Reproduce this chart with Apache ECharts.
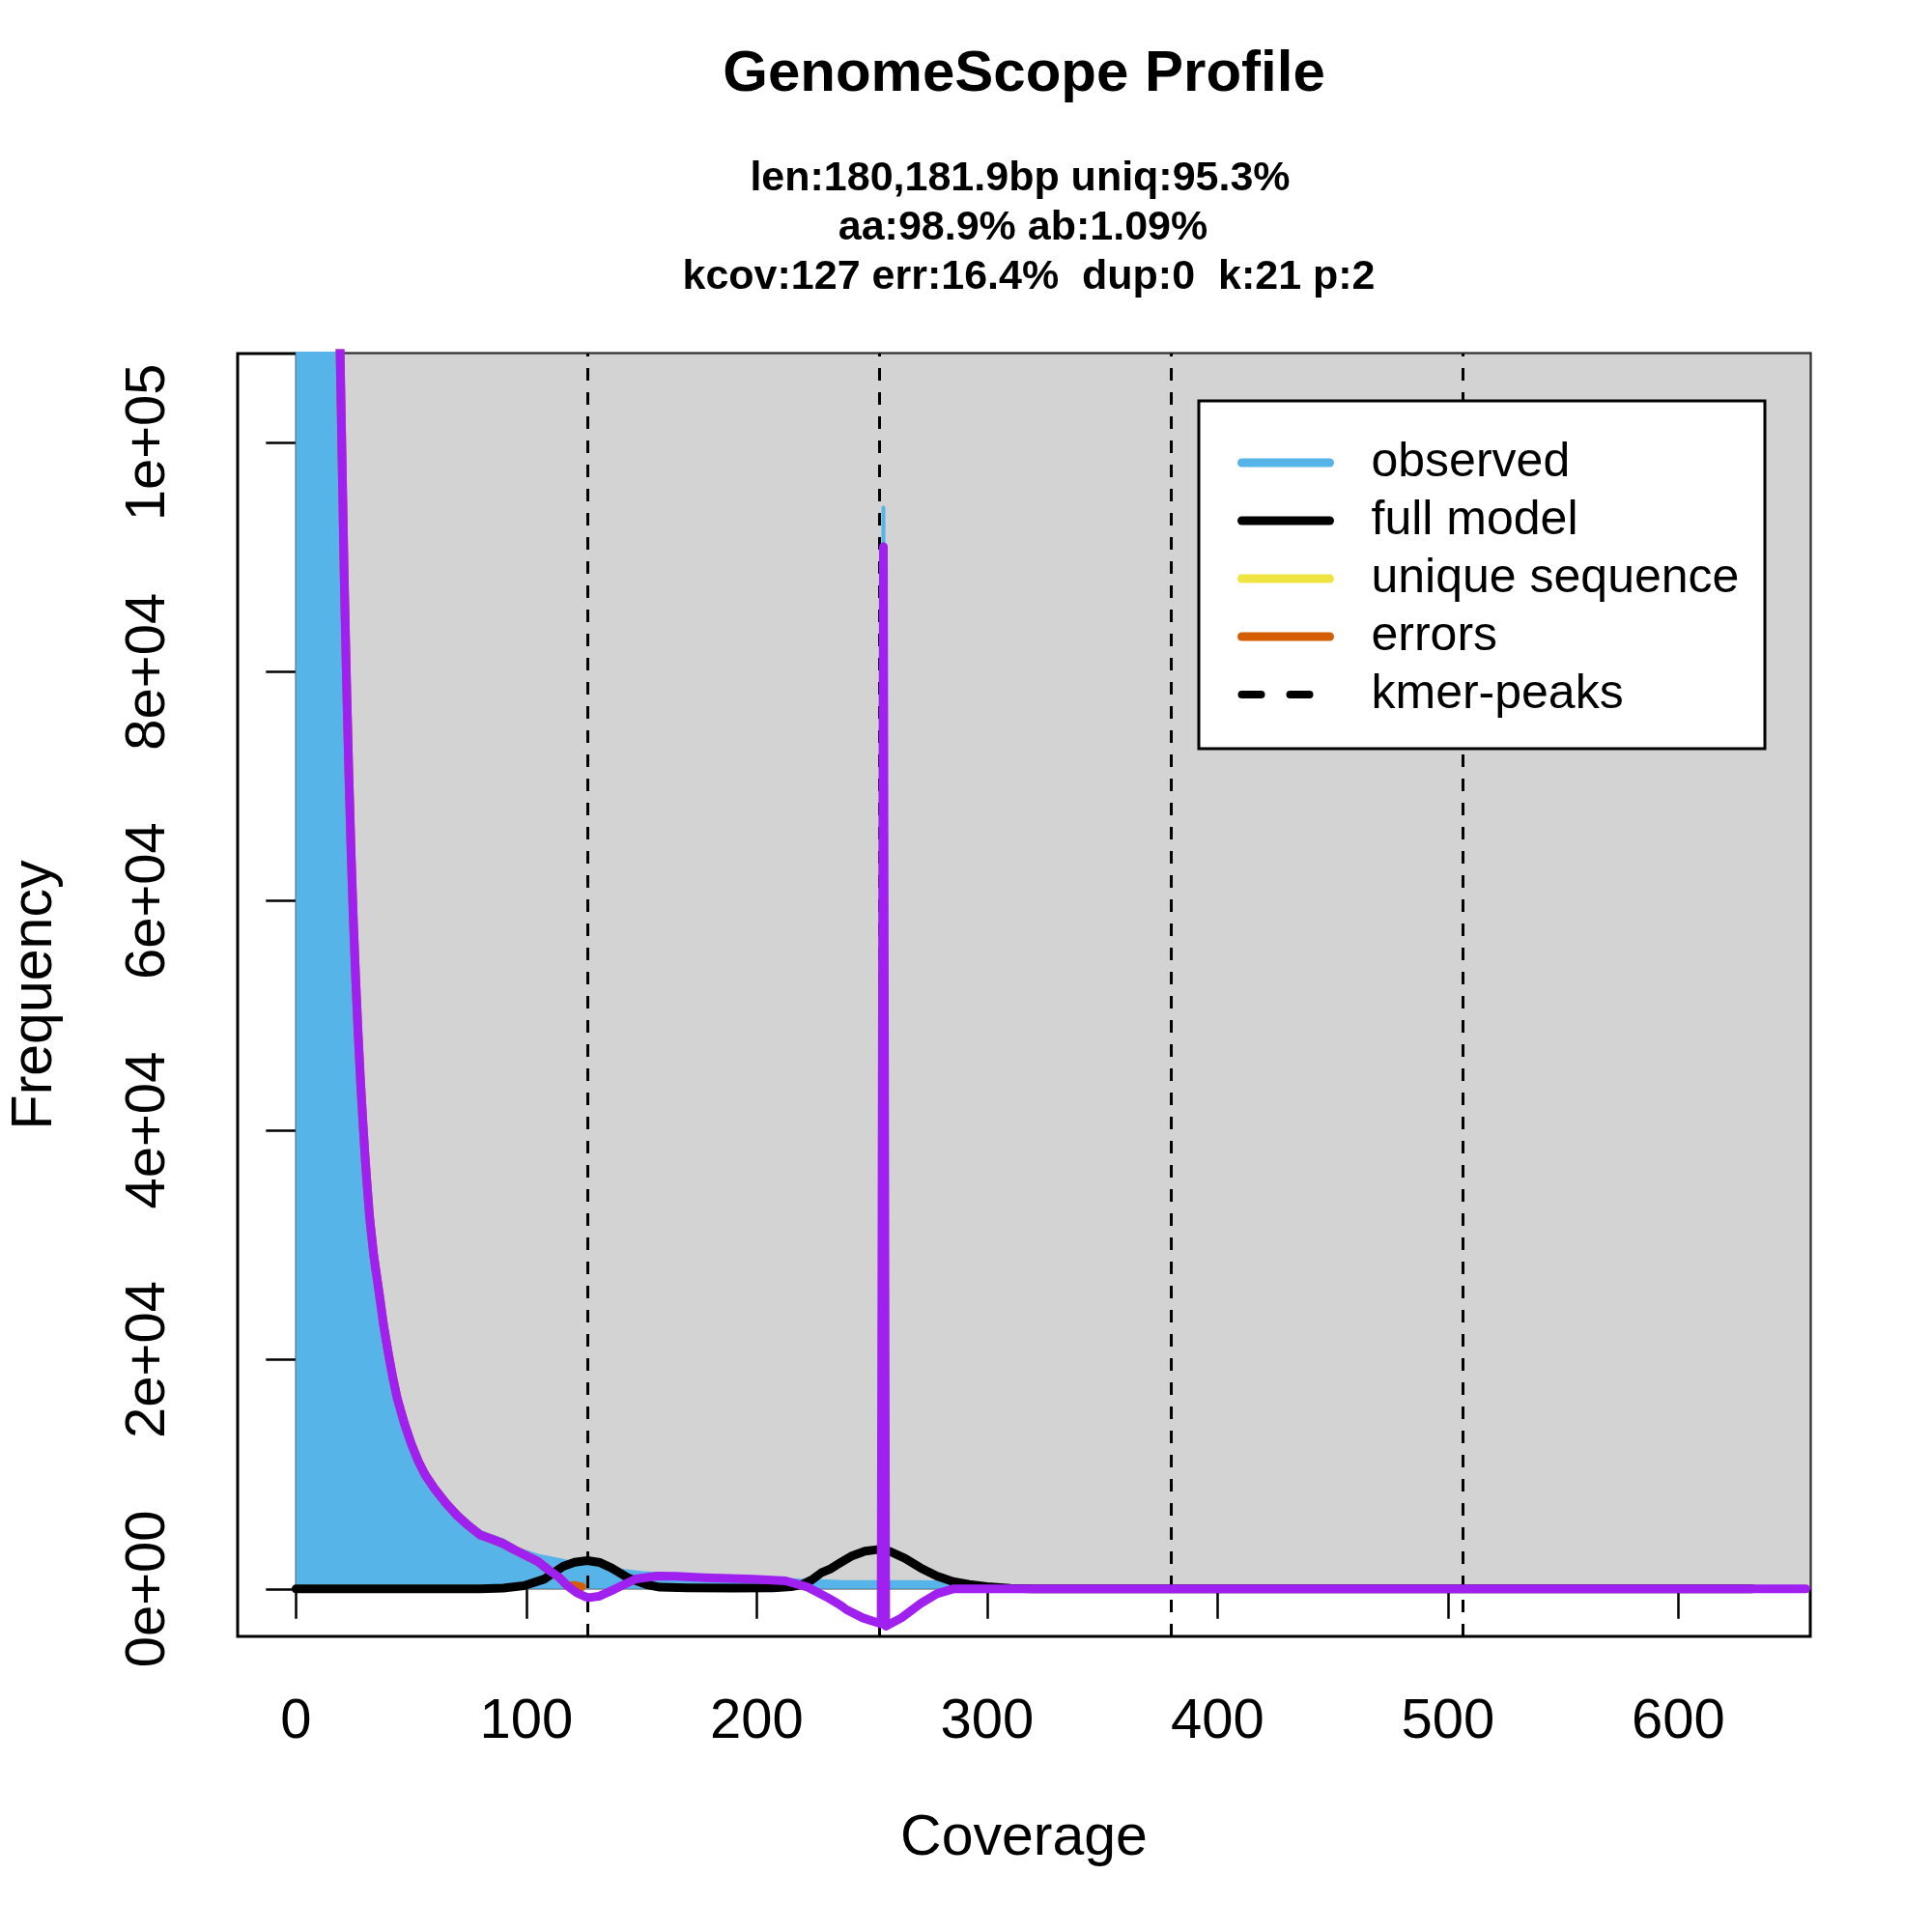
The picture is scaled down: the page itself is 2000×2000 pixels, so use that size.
<!DOCTYPE html>
<html>
<head>
<meta charset="utf-8">
<title>GenomeScope Profile</title>
<script src="https://cdn.jsdelivr.net/npm/echarts@6.0.0/dist/echarts.min.js"></script>
<style>
  html, body { margin: 0; padding: 0; background: #fff; }
  #chart { width: 2000px; height: 2000px; }
</style>
</head>
<body>
<div id="chart"></div>
<script>
// observed k-mer histogram (blue)
var obsCov  = [0, 2, 5, 10, 15, 17, 18, 19, 20, 21, 22, 23, 24, 25, 26, 27, 28, 29, 30, 31, 32, 33.8, 36, 38, 40, 42, 44, 47, 50, 53, 56, 60, 65, 70, 75, 80, 85, 90, 96, 105, 115, 124, 130, 138, 150, 164, 190, 220, 236, 254, 255, 256, 270, 285, 300, 320, 340, 632];
var obsFreq = [3000000, 1200000, 600000, 260000, 176000, 142000, 125000, 111000, 100000, 89000, 79800, 71700, 64600, 58600, 53500, 49000, 45000, 41400, 38200, 35400, 32800, 29400, 26300, 23400, 21000, 18800, 16900, 14800, 13000, 11500, 10300, 9100, 7800, 6700, 5800, 5000, 4600, 4250, 3500, 2900, 2500, 2100, 1900, 1680, 1400, 1200, 1000, 720, 620, 600, 94300, 600, 600, 560, 250, 60, 0, 0];

// full model (black)
var modelCov  = [0, 80, 90, 99, 107.6, 116, 121, 126.5, 132, 137, 144, 152.4, 158, 170, 190, 207, 215, 219.5, 224, 228, 232, 236, 241, 247, 252.4, 258, 264.3, 271.2, 278.2, 285.2, 292.2, 300, 310, 320, 632];
var modelFreq = [0, 0, 80, 280, 840, 1960, 2330, 2470, 2300, 1830, 980, 365, 150, 100, 80, 100, 200, 365, 800, 1400, 1750, 2250, 2850, 3300, 3430, 3250, 2670, 1825, 1120, 645, 400, 200, 60, 0, 0];

// errors (orange), mostly hidden below the purple curve
var errCov  = [15, 17, 18, 19, 20, 21, 22, 23, 24, 25, 26, 27, 28, 29, 30, 31, 32, 33.8, 36, 38, 40, 42, 44, 47, 50, 53, 56, 60, 65, 70, 75, 80, 85, 90, 95, 100, 105, 110, 114, 118, 121, 124];
var errFreq = [175000, 141000, 124000, 110000, 99000, 88000, 79000, 71000, 64000, 58000, 53000, 48500, 44500, 41000, 37800, 35000, 32400, 29060, 26000, 23100, 20700, 18500, 16600, 14500, 12700, 11200, 10000, 8800, 7500, 6400, 5500, 4700, 4350, 3950, 3400, 2900, 2400, 1600, 1050, 250, 300, 180];

// purple curve
var purpCov  = [15, 17, 18, 19, 20, 21, 22, 23, 24, 25, 26, 27, 28, 29, 30, 31, 32, 33.8, 36, 38, 40, 42, 44, 47, 50, 53, 56, 60, 65, 70, 75, 80, 85, 90, 95, 100, 105, 110, 114, 118, 122, 125.8, 127.2, 131.4, 138, 147.5, 157, 165, 177.6, 198.5, 212.5, 222.3, 231, 236.3, 239.1, 246.1, 251.7, 254, 255, 256, 262.8, 271.2, 278.2, 285.2, 300, 655.4];
var purpFreq = [175000, 141000, 124000, 110000, 99000, 88000, 79000, 71000, 64000, 58000, 53000, 48500, 44500, 41000, 37800, 35000, 32400, 29060, 26000, 23100, 20700, 18500, 16600, 14500, 12700, 11200, 10000, 8800, 7500, 6400, 5500, 4700, 4350, 3950, 3400, 2900, 2400, 1600, 1050, 250, -350, -702, -758, -646, -60, 870, 1123, 1100, 980, 842, 702, 140, -780, -1404, -1825, -2527, -2900, -3050, 90900, -3250, -2527, -1263, -420, 0, 0, 0];

var kmerPeaks = [126.6, 253.2, 379.8, 506.4];

var xTicks = [0, 100, 200, 300, 400, 500, 600];
var yTicks = [0, 20000, 40000, 60000, 80000, 100000];
var yTickLabels = ['0e+00', '2e+04', '4e+04', '6e+04', '8e+04', '1e+05'];

var FONT = '"Liberation Sans", Arial, Helvetica, sans-serif';

function zip(xs, ys) {
    var out = [];
    for (var i = 0; i < xs.length; i++) out.push([xs[i], ys[i]]);
    return out;
}

var myChart = echarts.init(document.getElementById('chart'));

myChart.setOption({
    animation: false,
    backgroundColor: '#fff',
    textStyle: { fontFamily: FONT },
    grid: {
        left: 246, top: 366, width: 1628, height: 1328,
        show: true, borderColor: '#000', borderWidth: 3,
        backgroundColor: 'transparent',
        outerBoundsMode: 'none'
    },
    xAxis: {
        type: 'value',
        min: -25.28, max: 657.28,
        name: 'Coverage',
        nameLocation: 'middle',
        nameGap: 180,
        nameTextStyle: { fontSize: 59, color: '#000', fontFamily: FONT },
        axisLine: { show: false },
        splitLine: { show: false },
        axisTick: { show: true, customValues: xTicks, length: 31, lineStyle: { color: '#000', width: 2.5 } },
        axisLabel: { customValues: xTicks, fontSize: 58, color: '#000', fontFamily: FONT, margin: 60 }
    },
    yAxis: {
        type: 'value',
        min: -4140, max: 107740,
        name: 'Frequency',
        nameLocation: 'middle',
        nameGap: 180,
        nameTextStyle: { fontSize: 59, color: '#000', fontFamily: FONT },
        axisLine: { show: false },
        splitLine: { show: false },
        axisTick: { show: true, customValues: yTicks, length: 31, lineStyle: { color: '#000', width: 2.5 } },
        axisLabel: {
            customValues: yTicks, rotate: 90, fontSize: 58, color: '#000', fontFamily: FONT, margin: 63,
            formatter: function (v) { return yTickLabels[yTicks.indexOf(v)]; }
        }
    },
    legend: {
        orient: 'vertical',
        left: 1281, top: 449,
        padding: 0,
        itemGap: 0,
        itemWidth: 91,
        itemHeight: 14,
        z: 11,
        selectedMode: false,
        itemStyle: { opacity: 0 },
        textStyle: { fontSize: 50, color: '#000', fontFamily: FONT, lineHeight: 60, padding: [0, 0, 0, 38] },
        lineStyle: { width: 9, cap: 'round' },
        data: ['observed', 'full model', 'unique sequence', 'errors',
            { name: 'kmer-peaks', lineStyle: { type: [20, 30], width: 8, cap: 'round' } }]
    },
    graphic: [
        { type: 'text', x: 1060, y: 77, z: 20,
          style: { text: 'GenomeScope Profile', font: 'bold 60px ' + FONT, fill: '#000',
                   align: 'center', textAlign: 'center', verticalAlign: 'middle', textVerticalAlign: 'middle' } },
        { type: 'text', x: 1056, y: 185, z: 20,
          style: { text: 'len:180,181.9bp uniq:95.3%', font: 'bold 43px ' + FONT, fill: '#000',
                   align: 'center', textAlign: 'center', verticalAlign: 'middle', textVerticalAlign: 'middle' } },
        { type: 'text', x: 1059, y: 236, z: 20,
          style: { text: 'aa:98.9% ab:1.09%', font: 'bold 43px ' + FONT, fill: '#000',
                   align: 'center', textAlign: 'center', verticalAlign: 'middle', textVerticalAlign: 'middle' } },
        { type: 'text', x: 1065, y: 287, z: 20,
          style: { text: 'kcov:127 err:16.4%  dup:0  k:21 p:2', font: 'bold 43px ' + FONT, fill: '#000',
                   align: 'center', textAlign: 'center', verticalAlign: 'middle', textVerticalAlign: 'middle' } },
        { type: 'rect', z: 10, silent: true,
          shape: { x: 1241, y: 415, width: 586, height: 360 },
          style: { fill: '#fff', stroke: '#000', lineWidth: 3 } }
    ],
    series: [
        {
            name: 'observed',
            type: 'line',
            data: zip(obsCov, obsFreq),
            symbol: 'none',
            lineStyle: { color: '#56B4E9', width: 4, join: 'round' },
            itemStyle: { color: '#56B4E9' },
            areaStyle: { color: '#56B4E9', opacity: 1, origin: 0 },
            markArea: {
                silent: true,
                itemStyle: { color: '#D3D3D3', borderColor: '#444', borderWidth: 1.5 },
                data: [[{ coord: [0, 0] }, { coord: [657.28, 107740] }]]
            },
            z: 2
        },
        {
            name: 'errors',
            type: 'line',
            data: zip(errCov, errFreq),
            symbol: 'none',
            lineStyle: { color: '#D55E00', width: 9, cap: 'round', join: 'round' },
            itemStyle: { color: '#D55E00' },
            z: 3
        },
        {
            name: 'unique sequence',
            type: 'line',
            data: zip(modelCov, modelFreq),
            symbol: 'none',
            lineStyle: { color: '#F0E442', width: 8, cap: 'round', join: 'round' },
            itemStyle: { color: '#F0E442' },
            z: 3
        },
        {
            name: 'full model',
            type: 'line',
            data: zip(modelCov, modelFreq),
            symbol: 'none',
            lineStyle: { color: '#000', width: 9, cap: 'round', join: 'round' },
            itemStyle: { color: '#000' },
            z: 4
        },
        {
            name: 'kmer-peaks',
            type: 'line',
            data: [],
            symbol: 'none',
            lineStyle: { color: '#000', width: 8, type: [20, 30] },
            itemStyle: { color: '#000' },
            markLine: {
                silent: true,
                symbol: 'none',
                label: { show: false },
                lineStyle: { color: '#000', width: 3, type: [13, 12] },
                data: kmerPeaks.map(function (k) { return { xAxis: k }; })
            },
            z: 4
        },
        {
            name: 'residual',
            type: 'line',
            data: zip(purpCov, purpFreq),
            symbol: 'none',
            lineStyle: { color: '#A020F0', width: 9, cap: 'round', join: 'round' },
            itemStyle: { color: '#A020F0' },
            z: 6
        }
    ]
});
</script>
</body>
</html>
